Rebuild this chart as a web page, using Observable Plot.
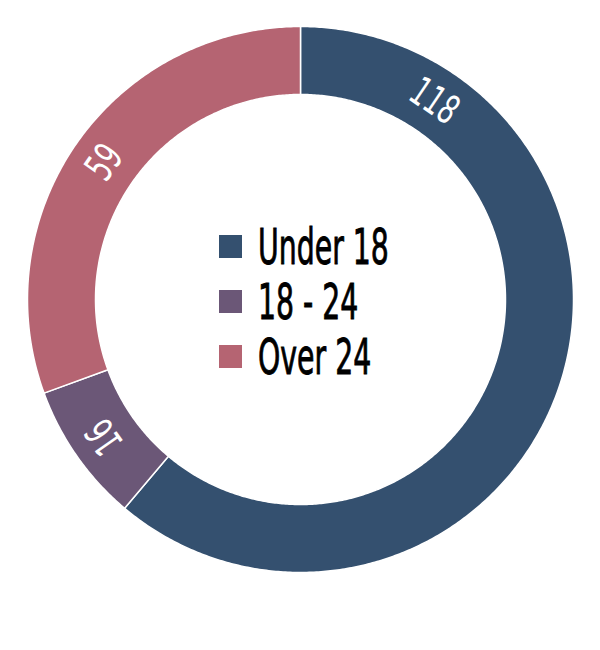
<!DOCTYPE html>
<html>
<head>
<meta charset="utf-8">
<script src="https://cdn.jsdelivr.net/npm/d3@7"></script>
<script src="https://cdn.jsdelivr.net/npm/@observablehq/plot@0.6"></script>
<style>
  html, body { margin: 0; padding: 0; background: #fff; }
  #wrap { position: relative; width: 600px; height: 650px; }
  #legend { position: absolute; left: 219px; top: 219px; font-family: "DejaVu Sans Condensed", "DejaVu Sans", sans-serif; font-stretch: condensed; }
  .row { display: flex; align-items: center; height: 55px; }
  .sw { width: 23px; height: 23px; margin-right: 16px; flex: none; }
  .lab { font-size: 50px; color: #000; transform: scaleX(0.63); transform-origin: left center; white-space: nowrap; line-height: 1; -webkit-text-stroke: 0.9px #000; }
</style>
</head>
<body>
<div id="wrap"></div>
<script>
const categories = ["Under 18", "18 - 24", "Over 24"];
const values = [118, 16, 59];
const colors = ["#34506f", "#6b5777", "#b56472"];

const outerR = 1;
const innerR = 205 / 273;
const total = d3.sum(values);

// build slice polygons (angles clockwise from top)
const polys = [];
const labels = [];
let acc = 0;
categories.forEach((c, i) => {
  const a0 = acc / total * 360;
  acc += values[i];
  const a1 = acc / total * 360;
  const n = Math.max(2, Math.ceil((a1 - a0) / 0.5));
  const pts = [];
  for (let k = 0; k <= n; k++) {
    const a = (a0 + (a1 - a0) * k / n) * Math.PI / 180;
    pts.push({cat: c, x: outerR * Math.sin(a), y: outerR * Math.cos(a)});
  }
  for (let k = n; k >= 0; k--) {
    const a = (a0 + (a1 - a0) * k / n) * Math.PI / 180;
    pts.push({cat: c, x: innerR * Math.sin(a), y: innerR * Math.cos(a)});
  }
  pts.push({...pts[0]});
  polys.push(...pts);
  let mid = (a0 + a1) / 2;
  if (i === 0) mid = 34; // label of the big slice sits near its start
  const rm = (outerR + innerR) / 2;
  const ar = mid * Math.PI / 180;
  labels.push({cat: c, value: values[i], x: rm * Math.sin(ar), y: rm * Math.cos(ar), rot: mid});
});

const chart = Plot.plot({
  width: 600,
  height: 650,
  marginLeft: 27,
  marginRight: 27,
  marginTop: 26,
  marginBottom: 78,
  x: {domain: [-1, 1], axis: null},
  y: {domain: [-1, 1], axis: null},
  color: {domain: categories, range: colors},
  marks: [
    Plot.line(polys, {x: "x", y: "y", z: "cat", fill: "cat", stroke: "white", strokeWidth: 1.5, curve: "linear"}),
    Plot.text(labels, {x: "x", y: "y", text: d => String(d.value), rotate: "rot", fill: "white",
      fontSize: 40, fontFamily: "'DejaVu Sans Condensed', 'DejaVu Sans', sans-serif"})
  ]
});

// narrow the slice labels to mimic a condensed face
d3.select(chart).selectAll("text").each(function() {
  const t = this.getAttribute("transform") || "";
  this.setAttribute("transform", t + " scale(0.72,1)");
});

const wrap = document.getElementById("wrap");
wrap.appendChild(chart);

const legend = document.createElement("div");
legend.id = "legend";
categories.forEach((c, i) => {
  const row = document.createElement("div");
  row.className = "row";
  const sw = document.createElement("div");
  sw.className = "sw";
  sw.style.background = colors[i];
  const lab = document.createElement("div");
  lab.className = "lab";
  lab.textContent = c;
  row.appendChild(sw);
  row.appendChild(lab);
  legend.appendChild(row);
});
wrap.appendChild(legend);
</script>
</body>
</html>
